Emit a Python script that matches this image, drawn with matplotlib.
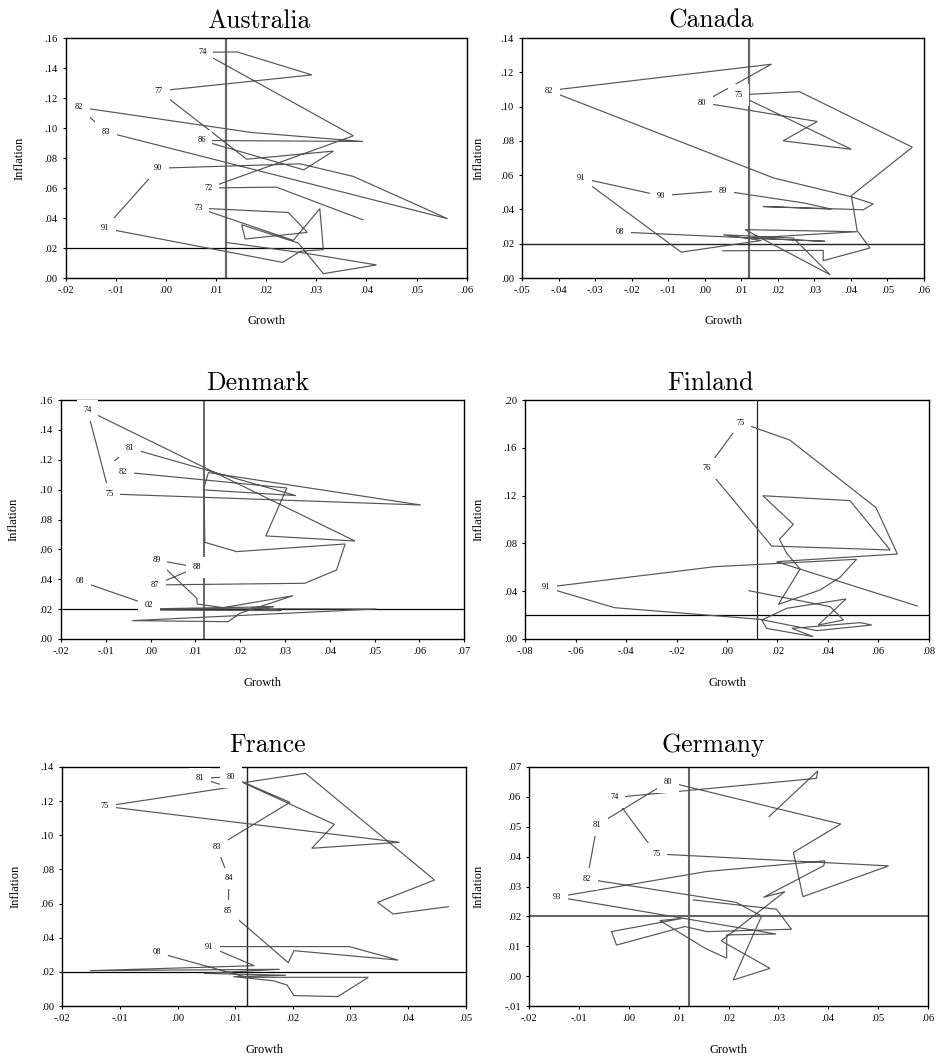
import matplotlib
matplotlib.use("Agg")
import matplotlib.pyplot as plt
from matplotlib.ticker import FixedLocator, FuncFormatter
import numpy as np

# ---------------- data (growth, inflation, year labels) ----------------
aus_growth = [0.0393, 0.0220, 0.0085, 0.0374, 0.0073, 0.0142, 0.0291, -0.0014, 0.0161, 0.0334,
              0.0275, 0.0071, 0.0393, 0.0171, -0.0173, -0.0120, 0.0562, 0.0374, 0.0268, -0.0015,
              -0.0122, 0.0233, 0.0268, 0.0314, 0.0307, 0.0254, 0.0065, 0.0244, 0.0282, 0.0158,
              0.0151, 0.0264, 0.0314, 0.0420, 0.0277, 0.0120]
aus_inflation = [0.0388, 0.0606, 0.0600, 0.0948, 0.1505, 0.1507, 0.1354, 0.1247, 0.0792, 0.0846,
                 0.0721, 0.0917, 0.0910, 0.0970, 0.1138, 0.0974, 0.0395, 0.0677, 0.0761, 0.0732,
                 0.0331, 0.0104, 0.0178, 0.0189, 0.0462, 0.0251, 0.0466, 0.0437, 0.0304, 0.0260,
                 0.0355, 0.0233, 0.0029, 0.0087, 0.0166, 0.0237]
aus_labels = ["", "", "72", "", "74", "", "", "77", "", "",
              "", "86", "", "", "82", "83", "", "", "", "90",
              "91", "", "", "", "", "", "73", "", "", "",
              "", "", "", "", "", ""]

can_growth = [0.0049, 0.0324, 0.0324, 0.0452, 0.0417, 0.0401, 0.0568, 0.0259, 0.0092, 0.0401,
              0.0214, 0.0308, -0.0007, 0.0182, -0.0427, 0.0189, 0.0397, 0.0461, 0.0434, 0.0159,
              0.0346, 0.0273, 0.0049, -0.0121, -0.0340, -0.0065, 0.0155, 0.0050, 0.0242, 0.0343,
              0.0110, 0.0416, 0.0123, 0.0329, -0.0233]
can_inflation = [0.0159, 0.0161, 0.0101, 0.0175, 0.0276, 0.0480, 0.0763, 0.1087, 0.1068, 0.0751,
                 0.0800, 0.0913, 0.1023, 0.1247, 0.1093, 0.0583, 0.0476, 0.0433, 0.0398, 0.0417,
                 0.0402, 0.0437, 0.0509, 0.0480, 0.0583, 0.0151, 0.0219, 0.0252, 0.0233, 0.0019,
                 0.0282, 0.0270, 0.0233, 0.0214, 0.0268]
can_labels = ["", "", "", "", "", "", "", "", "75", "",
              "", "", "80", "", "82", "", "", "", "", "",
              "", "", "89", "90", "91", "", "", "", "", "",
              "", "", "", "", "08"]

den_growth = [0.0118, 0.0129, 0.0603, -0.0092, -0.0141, 0.0456, 0.0257, 0.0304, -0.0062, -0.0085,
              -0.0046, 0.0324, 0.0119, 0.0121, 0.0192, 0.0434, 0.0415, 0.0344, 0.0010, 0.0104,
              0.0013, 0.0103, 0.0104, 0.0162, 0.0318, 0.0199, 0.0173, -0.0041, 0.0504, 0.0021,
              0.0274, 0.0225, 0.0292, 0.0021, -0.0004, -0.0158]
den_inflation = [0.1002, 0.1114, 0.0897, 0.0971, 0.1531, 0.0656, 0.0690, 0.1011, 0.1118, 0.1181,
                 0.1277, 0.0960, 0.0998, 0.0647, 0.0585, 0.0636, 0.0462, 0.0373, 0.0362, 0.0480,
                 0.0529, 0.0272, 0.0234, 0.0210, 0.0290, 0.0172, 0.0116, 0.0123, 0.0201, 0.0203,
                 0.0216, 0.0210, 0.0190, 0.0194, 0.0228, 0.0388]
den_labels = ["", "", "", "75", "74", "", "", "", "82", "",
              "81", "", "", "", "", "", "", "", "87", "88",
              "89", "", "", "", "", "", "", "", "", "",
              "", "", "", "", "02", "08"]

fin_growth = [0.0087, 0.0409, 0.0462, 0.0362, 0.0472, 0.0237, 0.0138, 0.0157, 0.0342, 0.0257,
              0.0528, 0.0574, 0.0356, 0.0130, -0.0446, -0.0719, -0.0049, 0.0514, 0.0448, 0.0369,
              0.0204, 0.0290, 0.0237, 0.0208, 0.0263, 0.0142, 0.0488, 0.0647, 0.0177, -0.0079,
              0.0054, 0.0249, 0.0591, 0.0676, 0.0196, 0.0755]
fin_inflation = [0.0404, 0.0271, 0.0159, 0.0117, 0.0335, 0.0257, 0.0159, 0.0089, 0.0020, 0.0089,
                 0.0137, 0.0117, 0.0070, 0.0165, 0.0262, 0.0432, 0.0605, 0.0667, 0.0516, 0.0410,
                 0.0290, 0.0586, 0.0717, 0.0834, 0.0960, 0.1199, 0.1158, 0.0745, 0.0778, 0.1428,
                 0.1810, 0.1665, 0.1099, 0.0711, 0.0647, 0.0276]
fin_labels = ["", "", "", "", "", "", "", "", "", "",
              "", "", "", "", "", "91", "", "", "", "",
              "", "", "", "", "", "", "", "", "", "76",
              "75", "", "", "", "", ""]

fra_growth = [0.0470, 0.0374, 0.0347, 0.0446, 0.0222, 0.0114, 0.0272, 0.0233, 0.0385, -0.0126,
              0.0091, 0.0039, 0.0093, 0.0195, 0.0068, 0.0089, 0.0088, 0.0192, 0.0202, 0.0383,
              0.0298, 0.0055, 0.0133, -0.0152, 0.0177, 0.0046, 0.0188, 0.0097, 0.0166, 0.0190,
              0.0202, 0.0278, 0.0331, 0.0120, -0.0036]
fra_inflation = [0.0582, 0.0539, 0.0607, 0.0738, 0.1363, 0.1308, 0.1064, 0.0924, 0.0959, 0.1170,
                 0.1281, 0.1334, 0.1342, 0.1193, 0.0933, 0.0748, 0.0557, 0.0254, 0.0324, 0.0269,
                 0.0348, 0.0348, 0.0236, 0.0207, 0.0215, 0.0191, 0.0180, 0.0172, 0.0148, 0.0123,
                 0.0061, 0.0055, 0.0168, 0.0168, 0.0314]
fra_labels = ["", "", "", "", "", "", "", "", "", "75",
              "", "81", "80", "", "83", "84", "85", "", "", "",
              "", "91", "", "", "", "", "", "", "", "",
              "", "", "", "", "08"]

ger_growth = [0.0281, 0.0379, 0.0376, -0.0029, 0.0055, 0.0521, 0.0349, 0.0330, 0.0425, 0.0078,
              -0.0064, -0.0084, 0.0215, 0.0266, 0.0209, 0.0283, 0.0185, 0.0313, 0.0270, 0.0391,
              0.0393, 0.0155, -0.0144, 0.0295, 0.0196, 0.0196, 0.0153, 0.0062, 0.0106, -0.0035,
              -0.0025, 0.0112, 0.0156, 0.0326, 0.0296, 0.0129]
ger_inflation = [0.0534, 0.0687, 0.0662, 0.0598, 0.0409, 0.0369, 0.0266, 0.0414, 0.0509, 0.0650,
                 0.0505, 0.0325, 0.0247, 0.0201, -0.0013, 0.0026, 0.0118, 0.0283, 0.0264, 0.0370,
                 0.0386, 0.0350, 0.0265, 0.0141, 0.0138, 0.0060, 0.0093, 0.0186, 0.0193, 0.0149,
                 0.0104, 0.0166, 0.0149, 0.0157, 0.0224, 0.0255]
ger_labels = ["", "", "", "74", "75", "", "", "", "", "80",
              "81", "82", "", "", "", "", "", "", "", "",
              "", "", "93", "", "", "", "", "", "", "",
              "", "", "", "", "", ""]

growth_target = 0.012
inflation_target = 0.02

# ---------------- layout / styles ----------------
W, H = 938, 1059
panels = [
    # name, growth, inflation, labels, rect px (left, top, right, bottom), xlim, xstep, ylim, ystep,
    # vline style, hline style, title pad, title x, xlabel y, ylabel x
    ("Australia", aus_growth, aus_inflation, aus_labels, (65.7, 38, 466.7, 278), (-0.02, 0.06), 0.01,
     (0.0, 0.16), 0.02, ("#666666", 1.6), ("black", 0.9), 7.2, 0.482, -0.154, -0.099),
    ("Canada", can_growth, can_inflation, can_labels, (522.3, 38, 924, 278), (-0.05, 0.06), 0.01,
     (0.0, 0.14), 0.02, ("#666666", 1.6), ("#222222", 1.0), 7.2, 0.469, -0.154, -0.095),
    ("Denmark", den_growth, den_inflation, den_labels, (61, 400, 464.3, 639), (-0.02, 0.07), 0.01,
     (0.0, 0.16), 0.02, ("#666666", 1.4), ("black", 0.9), 7.2, 0.488, -0.159, -0.102),
    ("Finland", fin_growth, fin_inflation, fin_labels, (525.3, 400, 928.7, 639), (-0.08, 0.08), 0.02,
     (0.0, 0.20), 0.04, ("#222222", 0.9), ("black", 0.9), 7.2, 0.46, -0.159, -0.102),
    ("France", fra_growth, fra_inflation, fra_labels, (62.3, 767, 465.7, 1006), (-0.02, 0.05), 0.01,
     (0.0, 0.14), 0.02, ("#222222", 1.0), ("black", 0.9), 10.8, 0.509, -0.159, -0.102),
    ("Germany", ger_growth, ger_inflation, ger_labels, (529.3, 767, 928, 1006), (-0.02, 0.06), 0.01,
     (-0.01, 0.07), 0.01, ("#666666", 1.5), ("#666666", 1.5), 10.8, 0.462, -0.159, -0.111),
]

SERIF = "Liberation Serif"


def fmt(v, pos=None):
    if abs(v) < 1e-9:
        v = 0.0
    s = f"{v:.2f}"
    if s.startswith("-0."):
        return "-" + s[2:]
    if s.startswith("0."):
        return s[1:]
    return s


fig = plt.figure(figsize=(W / 100, H / 100), dpi=100)
fig.patch.set_facecolor("white")

for (name, gx, iy, labs, (l, t, r, b), xlim, xstep, ylim, ystep, vst, hst, tpad, tx, xly, ylx) in panels:
    ax = fig.add_axes([l / W, 1 - b / H, (r - l) / W, (b - t) / H])
    ax.set_xlim(*xlim)
    ax.set_ylim(*ylim)
    xt = np.round(np.arange(xlim[0], xlim[1] + xstep / 2, xstep), 4)
    yt = np.round(np.arange(ylim[0], ylim[1] + ystep / 2, ystep), 4)
    ax.xaxis.set_major_locator(FixedLocator(xt))
    ax.yaxis.set_major_locator(FixedLocator(yt))
    ax.xaxis.set_major_formatter(FuncFormatter(fmt))
    ax.yaxis.set_major_formatter(FuncFormatter(fmt))
    ax.tick_params(direction="out", length=2.4, width=0.8, pad=3.6, labelsize=7.6, colors="black")
    for lab in ax.get_xticklabels() + ax.get_yticklabels():
        lab.set_fontname(SERIF)
    for sp in ax.spines.values():
        sp.set_linewidth(1.0)
        sp.set_color("black")

    # reference lines
    ax.axvline(growth_target, color=vst[0], lw=vst[1], zorder=2)
    ax.axhline(inflation_target, color=hst[0], lw=hst[1], zorder=2)

    # connected path
    ax.plot(gx, iy, color="#555555", lw=0.85, zorder=2.2, solid_joinstyle="miter")

    # year labels (white boxes break the lines like the original)
    for x, y, s in zip(gx, iy, labs):
        if s:
            ax.text(x, y, s, fontsize=6, fontname=SERIF, ha="center", va="center",
                    zorder=6, clip_on=False,
                    bbox=dict(boxstyle="square,pad=0.8", facecolor="white", edgecolor="none"))

    ax.set_title(name, fontname="cmr10", fontsize=18.5, pad=tpad, x=tx)
    ax.set_xlabel("Growth", fontname=SERIF, fontsize=9)
    ax.set_ylabel("Inflation", fontname=SERIF, fontsize=9)
    ax.xaxis.set_label_coords(0.5, xly)
    ax.yaxis.set_label_coords(ylx, 0.5)

fig.savefig("out.png", dpi=100, facecolor="white")
